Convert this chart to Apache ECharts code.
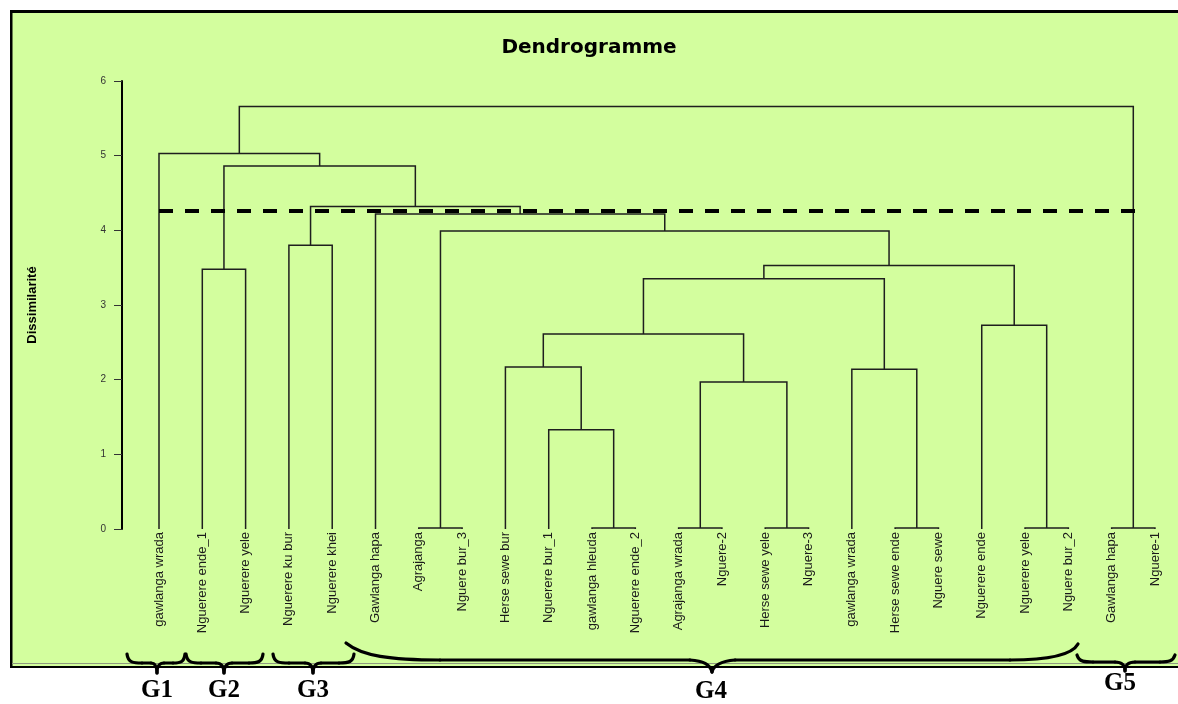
<!DOCTYPE html>
<html>
<head>
<meta charset="utf-8">
<script src="https://cdn.jsdelivr.net/npm/echarts@6/dist/echarts.min.js"></script>
<style>html,body{margin:0;padding:0;background:#fff;}#c{width:1178px;height:704px;}</style>
</head>
<body>
<div id="c"></div>
<script>
// Leaves (left to right)
const leaves = ["gawlanga wrada","Nguerere ende_1","Nguerere yele","Nguerere ku bur","Nguerere khei","Gawlanga hapa","Agrajanga","Nguere bur_3","Herse sewe bur","Nguerere bur_1","gawlanga hleuda","Nguerere ende_2","Agrajanga wrada","Nguere-2","Herse sewe yele","Nguere-3","gawlanga wrada","Herse sewe ende","Nguere sewe","Nguerere ende","Nguerere yele","Nguere bur_2","Gawlanga hapa","Nguere-1"];
// Linkage: merge k creates cluster id 24+k
const mergeLeft   = [6, 10, 12, 14, 17, 20, 22, 9, 8, 26, 32, 16, 34, 19, 36, 24, 5, 3, 41, 1, 43, 0, 45];
const mergeRight  = [7, 11, 13, 15, 18, 21, 23, 25, 31, 27, 33, 28, 35, 29, 37, 38, 39, 4, 40, 2, 42, 44, 30];
const mergeHeight = [0.015, 0.015, 0.015, 0.015, 0.015, 0.015, 0.015, 1.33, 2.17, 1.97, 2.61, 2.14, 3.35, 2.73, 3.53, 3.99, 4.22, 3.80, 4.32, 3.48, 4.86, 5.03, 5.66];
const cutHeight = 4.26;
const cutFrom = 0, cutTo = 22.77;
const groupLabels = ["G1", "G2", "G3", "G4", "G5"];

// node positions (x = leaf index or midpoint of children, y = height)
const nodeX = leaves.map((_, i) => i);
const nodeY = leaves.map(() => 0);
const segs = [];
for (let k = 0; k < mergeLeft.length; k++) {
  const a = mergeLeft[k], b = mergeRight[k], h = mergeHeight[k];
  segs.push([nodeX[a], nodeY[a], nodeX[b], nodeY[b], h]);
  nodeX.push((nodeX[a] + nodeX[b]) / 2);
  nodeY.push(h);
}

const chart = echarts.init(document.getElementById('c'), null, {renderer: 'canvas'});
const bracePaths = [
  'M127,654 C128,663 134,663 142,663 L151,663 C155,663 157,666 157,673 C157,666 159,663 164,663 L173,663 C181,663 184,662 185,654',
  'M186,654 C187,663 193,663 201,663 L216,663 C221,663 224,666 224,673 C224,666 227,663 232,663 L249,663 C258,663 262,662 263,654',
  'M273,654 C274,663 280,663 289,663 L305,663 C310,663 313,666 313,673 C313,666 316,663 321,663 L339,663 C349,663 353,662 354,654',
  'M346,643 C362,656 390,660 440,660 L690,660 C703,661 710,664 712,672 C714,664 722,661 735,660 L1010,660 C1050,660 1072,655 1078,644',
  'M1077,655 C1079,662 1085,662 1093,662 L1115,662 C1121,662 1125,664 1125,671 C1125,664 1129,662 1135,662 L1160,662 C1169,662 1173,661 1175,655'
];
const groupPos = [[157, 691], [224, 691], [313, 691], [711, 692], [1120, 684]];

const graphics = [
  {type: 'rect', shape: {x: 0, y: 0, width: 1178, height: 10}, style: {fill: '#fff'}, silent: true},
  {type: 'rect', shape: {x: 0, y: 0, width: 10, height: 704}, style: {fill: '#fff'}, silent: true},
  {type: 'rect', shape: {x: 0, y: 668, width: 1178, height: 36}, style: {fill: '#fff'}, silent: true},
  {type: 'rect', shape: {x: 10, y: 10, width: 1168, height: 3}, style: {fill: '#000'}, silent: true},
  {type: 'rect', shape: {x: 10, y: 10, width: 2.5, height: 658}, style: {fill: '#000'}, silent: true},
  {type: 'rect', shape: {x: 12, y: 663, width: 1166, height: 1}, style: {fill: '#8f9a80'}, silent: true},
  {type: 'rect', shape: {x: 10, y: 666, width: 1168, height: 2}, style: {fill: '#000'}, silent: true}
];
// convert simple M/C/L path strings into bezierCurve / line graphic elements
function pathToElements(p) {
  const tok = p.replace(/([MCL])/g, ' $1 ').replace(/,/g, ' ').trim().split(/\s+/);
  const out = [];
  let i = 0, cx = 0, cy = 0, cmd = null;
  const st = {fill: null, stroke: '#000', lineWidth: 3.2, lineCap: 'round'};
  while (i < tok.length) {
    if (/[MCL]/.test(tok[i])) { cmd = tok[i]; i++; }
    if (cmd === 'M') { cx = +tok[i]; cy = +tok[i + 1]; i += 2; }
    else if (cmd === 'L') {
      const x = +tok[i], y = +tok[i + 1]; i += 2;
      out.push({type: 'line', z: 10, silent: true, shape: {x1: cx, y1: cy, x2: x, y2: y}, style: st});
      cx = x; cy = y;
    } else if (cmd === 'C') {
      const a = tok.slice(i, i + 6).map(Number); i += 6;
      out.push({type: 'bezierCurve', z: 10, silent: true,
        shape: {x1: cx, y1: cy, cpx1: a[0], cpy1: a[1], cpx2: a[2], cpy2: a[3], x2: a[4], y2: a[5]}, style: st});
      cx = a[4]; cy = a[5];
    } else { i++; }
  }
  return out;
}
bracePaths.forEach(p => pathToElements(p).forEach(e => graphics.push(e)));
groupLabels.forEach((g, i) => graphics.push({
  type: 'text', z: 10, x: groupPos[i][0], y: groupPos[i][1], silent: true,
  style: {text: g, fontSize: 25, fontWeight: 'bold', fontFamily: 'Liberation Serif', fill: '#000', align: 'center', verticalAlign: 'middle'}
}));

chart.setOption({
  backgroundColor: '#D3FE9E',
  animation: false,
  title: {
    text: 'Dendrogramme', left: 'center', top: 38, padding: 0,
    textStyle: {fontFamily: 'DejaVu Sans', fontWeight: 'bold', fontSize: 20, color: '#000'}
  },
  grid: {left: 137.35, right: 1.4, top: 81, bottom: 175, containLabel: false},
  xAxis: [
    {
      type: 'category', data: leaves, boundaryGap: true,
      axisLine: {show: false, onZero: false}, axisTick: {show: false}, splitLine: {show: false},
      axisLabel: {interval: 0, rotate: 90, margin: 3, fontSize: 13, fontFamily: 'Liberation Sans', color: '#1a1a1a'}
    },
    {type: 'value', min: -0.5, max: 23.5, show: false, axisLine: {onZero: false}}
  ],
  yAxis: {
    type: 'value', min: 0, max: 6, interval: 1, offset: 15.35,
    name: 'Dissimilarité', nameLocation: 'middle', nameGap: 83,
    nameTextStyle: {fontFamily: 'Liberation Sans', fontWeight: 'bold', fontSize: 13, color: '#000'},
    axisLine: {show: true, onZero: false, lineStyle: {color: '#000', width: 2}},
    axisTick: {show: true, length: 8, lineStyle: {color: '#333', width: 1}},
    axisLabel: {margin: 16, fontSize: 10, fontFamily: 'Liberation Sans', color: '#333'},
    splitLine: {show: false}
  },
  graphic: {elements: graphics},
  series: [
    {
      type: 'custom', xAxisIndex: 1, yAxisIndex: 0,
      dimensions: ['xl', 'yl', 'xr', 'yr', 'h'],
      encode: {x: [0, 2], y: [1, 3, 4]},
      data: segs,
      renderItem: function (params, api) {
        const xl = api.value(0), yl = api.value(1), xr = api.value(2), yr = api.value(3), h = api.value(4);
        return {
          type: 'polyline',
          shape: {points: [api.coord([xl, yl]), api.coord([xl, h]), api.coord([xr, h]), api.coord([xr, yr])]},
          style: {stroke: '#1e1e1e', lineWidth: 1.5, fill: null}
        };
      },
      silent: true
    },
    {
      type: 'line', xAxisIndex: 1, yAxisIndex: 0, symbol: 'none', silent: true, z: 5,
      data: [[cutFrom, cutHeight], [cutTo, cutHeight]],
      lineStyle: {color: '#000', width: 4, type: [14, 12]}
    }
  ]
});
</script>
</body>
</html>
